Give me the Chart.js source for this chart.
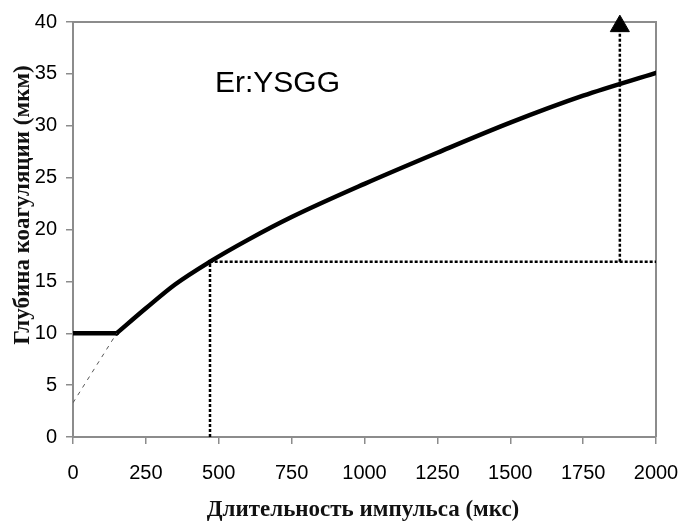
<!DOCTYPE html>
<html>
<head>
<meta charset="utf-8">
<script src="https://cdn.jsdelivr.net/npm/chart.js@4.4.1/dist/chart.umd.min.js"></script>
<style>
  html, body { margin: 0; padding: 0; background: #fff; }
  #wrap { width: 680px; height: 526px; }
</style>
</head>
<body>
<div id="wrap"><canvas id="chart" width="680" height="526"></canvas></div>
<script>
// Pulse duration (us) vs coagulation depth (um)
const pulse = [0, 150, 250, 350, 470, 600, 750, 1000, 1250, 1500, 1750, 2000];
const depth = [10, 10, 12.4, 14.7, 16.9, 19.0, 21.2, 24.4, 27.4, 30.3, 32.9, 35.1];

// thin dashed extrapolation below the plateau
const extraX = [0, 150];
const extraY = [3.3, 10];

// dotted guide lines
const guideX = [470, 470, 2000];
const guideY = [0, 16.9, 16.9];
const arrowX = [1876, 1876];
const arrowY = [16.9, 39.6];

const xTicks = [0, 250, 500, 750, 1000, 1250, 1500, 1750, 2000];
const yTicks = [0, 5, 10, 15, 20, 25, 30, 35, 40];

const toPoints = (xs, ys) => xs.map((x, i) => ({ x: x, y: ys[i] }));

const axisGray = "#8c8c8c";
const tickFont = "'Liberation Sans', Arial, sans-serif";

const framePlugin = {
  id: "frame",
  beforeDatasetsDraw(chart) {
    const { ctx, chartArea: a } = chart;
    ctx.save();
    ctx.strokeStyle = axisGray;
    ctx.lineWidth = 2;
    ctx.beginPath();
    ctx.moveTo(a.left, a.top);
    ctx.lineTo(a.right, a.top);
    ctx.lineTo(a.right, a.bottom);
    ctx.stroke();
    ctx.restore();
  },
  afterDraw(chart) {
    const { ctx } = chart;
    ctx.save();
    ctx.fillStyle = "#000";
    ctx.font = "30px 'Liberation Sans', Arial, sans-serif";
    ctx.textAlign = "left";
    ctx.textBaseline = "alphabetic";
    ctx.fillText("Er:YSGG", 215, 92);

    ctx.fillStyle = "#111";
    ctx.font = "bold 23px 'Liberation Serif', 'Times New Roman', serif";
    ctx.textAlign = "center";
    ctx.textBaseline = "middle";
    ctx.fillText("Длительность импульса (мкс)", 363, 510);

    ctx.translate(23, 205);
    ctx.rotate(-Math.PI / 2);
    ctx.fillText("Глубина коагуляции (мкм)", 0, 0);
    ctx.restore();
  }
};

new Chart(document.getElementById("chart"), {
  type: "scatter",
  data: {
    datasets: [
      {
        data: toPoints(extraX, extraY),
        showLine: true,
        borderColor: "#555",
        borderWidth: 1,
        borderDash: [4, 5],
        pointRadius: 0
      },
      {
        data: toPoints(guideX, guideY),
        showLine: true,
        borderColor: "#000",
        borderWidth: 2.5,
        borderDash: [3, 2],
        pointRadius: 0
      },
      {
        data: toPoints(arrowX, arrowY),
        showLine: true,
        borderColor: "#000",
        borderWidth: 2.5,
        borderDash: [3, 2],
        pointRadius: [0, 11],
        pointStyle: "triangle",
        pointBackgroundColor: "#000",
        pointBorderColor: "#000",
        pointBorderWidth: 1,
        clip: 30
      },
      {
        // plateau
        data: toPoints(pulse.slice(0, 2), depth.slice(0, 2)),
        showLine: true,
        borderColor: "#000",
        borderWidth: 4.5,
        borderCapStyle: "round",
        pointRadius: 0
      },
      {
        // rising part
        data: toPoints(pulse.slice(1), depth.slice(1)),
        showLine: true,
        borderColor: "#000",
        borderWidth: 4.5,
        borderCapStyle: "round",
        cubicInterpolationMode: "monotone",
        pointRadius: 0
      }
    ]
  },
  options: {
    responsive: false,
    animation: false,
    layout: { padding: { left: 0, top: 22, right: 24, bottom: 0 } },
    plugins: {
      legend: { display: false },
      tooltip: { enabled: false }
    },
    scales: {
      x: {
        type: "linear",
        min: 0,
        max: 2000,
        afterBuildTicks: (scale) => { scale.ticks = xTicks.map((v) => ({ value: v })); },
        afterFit: (scale) => {
          scale.height = 89;
          scale.paddingRight = 0;
          scale.paddingLeft = 0;
        },
        grid: { drawOnChartArea: false, color: axisGray, tickLength: 7, lineWidth: 1.5 },
        border: { color: axisGray, width: 2 },
        ticks: {
          color: "#000",
          padding: 17,
          maxRotation: 0,
          callback: (v) => String(v),
          font: { family: tickFont, size: 20 }
        }
      },
      y: {
        min: 0,
        max: 40,
        afterBuildTicks: (scale) => { scale.ticks = yTicks.map((v) => ({ value: v })); },
        afterFit: (scale) => { scale.width = 73; },
        grid: { drawOnChartArea: false, color: axisGray, tickLength: 7, lineWidth: 1.5 },
        border: { color: axisGray, width: 2 },
        ticks: {
          color: "#000",
          padding: 9,
          callback: (v) => String(v),
          font: { family: tickFont, size: 20 }
        }
      }
    }
  },
  plugins: [framePlugin]
});
</script>
</body>
</html>
